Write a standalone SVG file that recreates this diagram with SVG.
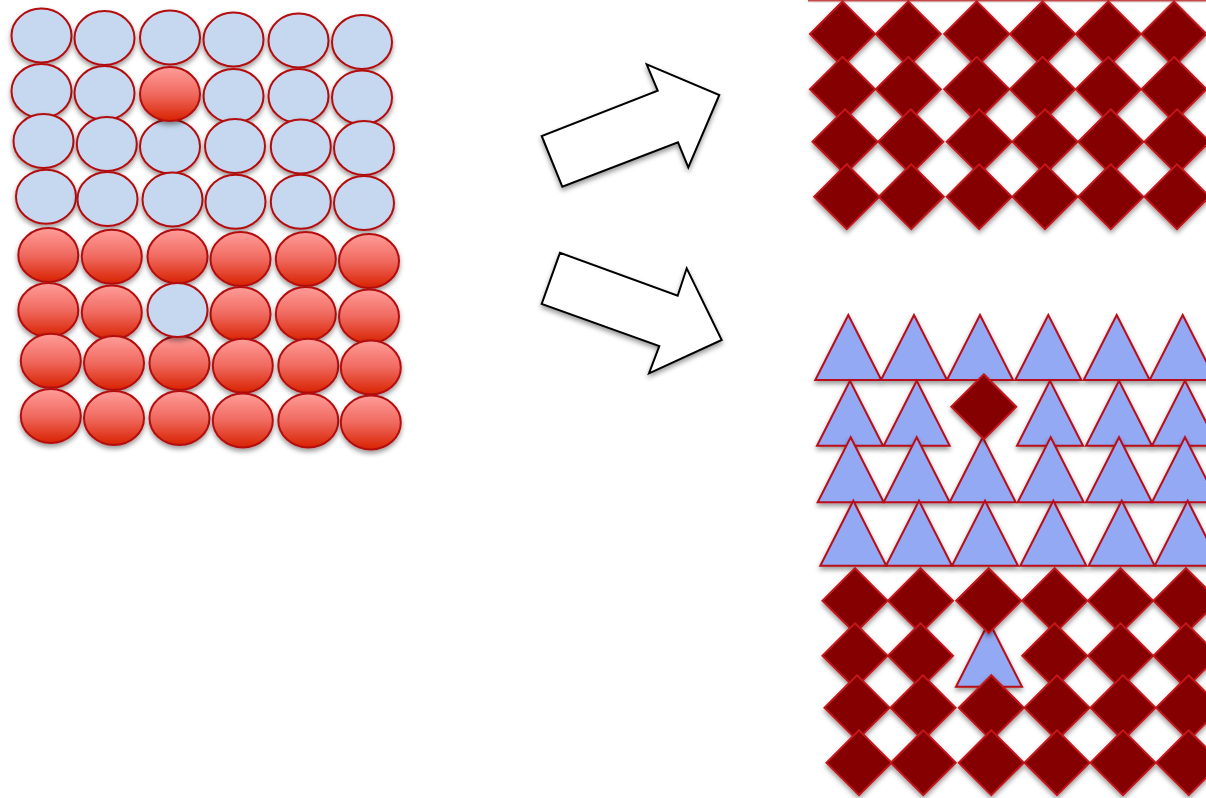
<svg xmlns="http://www.w3.org/2000/svg" xmlns:xlink="http://www.w3.org/1999/xlink" width="1206" height="798" viewBox="0 0 1206 798">
<style>
.blue{fill:#c6d8ef;stroke:#b30d10;stroke-width:2}
.red{fill:url(#rg);stroke:#b30d10;stroke-width:2}
.dia{fill:#850000;stroke:#c2141a;stroke-width:2}
.tri{fill:#93a9f3;stroke:#b8101a;stroke-width:2;stroke-linejoin:miter}
.arrow{fill:#ffffff;stroke:#000000;stroke-width:2}
.blue,.red,.dia,.tri,.arrow,.edge{filter:url(#ds)}
</style>
<defs>
<linearGradient id="rg" x1="0" y1="0" x2="0" y2="1">
<stop offset="0" stop-color="#ff9c98"/>
<stop offset="0.5" stop-color="#f06a60"/>
<stop offset="1" stop-color="#d82200"/>
</linearGradient>
<filter id="ds" x="-30%" y="-30%" width="160%" height="170%">
<feDropShadow dx="0" dy="3" stdDeviation="2.5" flood-color="#000" flood-opacity="0.4"/>
</filter>
<ellipse id="c" cx="0" cy="0" rx="30" ry="27"/>
<path id="d" d="M0,-32.5 L32.5,0 L0,32.5 L-32.5,0 Z"/>
<path id="t" d="M0,0 L33,65 L-33,65 Z"/>
</defs>

<g id="circles">
<g id="row1">
<use href="#c" class="blue" x="41.5" y="35.5"/><use href="#c" class="blue" x="104.5" y="38"/><use href="#c" class="blue" x="170" y="37.5"/><use href="#c" class="blue" x="233.5" y="39.5"/><use href="#c" class="blue" x="298.5" y="40.5"/><use href="#c" class="blue" x="362" y="42"/>
</g>
<g id="row2">
<use href="#c" class="blue" x="41.5" y="91"/><use href="#c" class="blue" x="104.5" y="93"/><use href="#c" class="blue" x="233.5" y="96"/><use href="#c" class="blue" x="298.5" y="96"/><use href="#c" class="blue" x="362" y="97.5"/>
</g>
<g id="row3">
<use href="#c" class="blue" x="43.5" y="141"/><use href="#c" class="blue" x="106.8" y="144"/><use href="#c" class="blue" x="170" y="146.5"/><use href="#c" class="blue" x="235" y="146"/><use href="#c" class="blue" x="300.8" y="146.5"/><use href="#c" class="blue" x="364" y="148"/>
</g>
<g id="row4">
<use href="#c" class="blue" x="46" y="196.7"/><use href="#c" class="blue" x="107.5" y="199"/><use href="#c" class="blue" x="172.5" y="199.5"/><use href="#c" class="blue" x="235.5" y="201.7"/><use href="#c" class="blue" x="300.8" y="201.7"/><use href="#c" class="blue" x="364" y="203"/>
</g>
<g id="row5">
<use href="#c" class="red" x="48.3" y="255"/><use href="#c" class="red" x="111.8" y="256.7"/><use href="#c" class="red" x="177.5" y="256.5"/><use href="#c" class="red" x="240.5" y="259"/><use href="#c" class="red" x="305.8" y="259"/><use href="#c" class="red" x="369" y="261"/>
</g>
<g id="row6">
<use href="#c" class="red" x="48.3" y="310"/><use href="#c" class="red" x="111.8" y="312.5"/><use href="#c" class="red" x="240.5" y="314"/><use href="#c" class="red" x="305.8" y="314"/><use href="#c" class="red" x="369" y="316.5"/>
</g>
<g id="row7">
<use href="#c" class="red" x="50.8" y="360.8"/><use href="#c" class="red" x="114" y="363"/><use href="#c" class="red" x="179.5" y="363"/><use href="#c" class="red" x="242.8" y="365.7"/><use href="#c" class="red" x="308.3" y="365.7"/><use href="#c" class="red" x="370.8" y="367.5"/>
</g>
<g id="row8">
<use href="#c" class="red" x="50.8" y="416"/><use href="#c" class="red" x="114" y="418"/><use href="#c" class="red" x="179.5" y="418"/><use href="#c" class="red" x="242.8" y="420.5"/><use href="#c" class="red" x="308.3" y="420.5"/><use href="#c" class="red" x="370.8" y="422.5"/>
</g>
<g id="odd-red"><use href="#c" class="red" x="170" y="94"/></g>
<g id="odd-blue"><use href="#c" class="blue" x="177.5" y="310"/></g>
</g>

<g id="arrows">
<polygon id="arrow-up" class="arrow" points="541.7,136 562.3,186.7 678,142.3 688.3,167.3 719.3,95 646.7,64.3 657.7,90.7"/>
<polygon id="arrow-down" class="arrow" points="560,252.7 541.7,304 659.3,346 649,373.3 721.7,340 686.7,268.3 677.7,295.7"/>
</g>

<g id="top-diamonds">
<rect id="top-edge" class="edge" x="808" y="0" width="398" height="1.5" fill="#c44848"/>
<g id="td-row1">
<use href="#d" class="dia" x="842.5" y="34"/><use href="#d" class="dia" x="908.3" y="34"/><use href="#d" class="dia" x="976.7" y="34"/><use href="#d" class="dia" x="1042.5" y="34"/><use href="#d" class="dia" x="1108.3" y="34"/><use href="#d" class="dia" x="1174" y="34"/>
</g>
<g id="td-row2">
<use href="#d" class="dia" x="842.5" y="89.3"/><use href="#d" class="dia" x="908.3" y="89.3"/><use href="#d" class="dia" x="976.7" y="89.3"/><use href="#d" class="dia" x="1042.5" y="89.3"/><use href="#d" class="dia" x="1108.3" y="89.3"/><use href="#d" class="dia" x="1174" y="89.3"/>
</g>
<g id="td-row3">
<use href="#d" class="dia" x="845" y="141.7"/><use href="#d" class="dia" x="910.8" y="141.7"/><use href="#d" class="dia" x="979.2" y="141.7"/><use href="#d" class="dia" x="1045" y="141.7"/><use href="#d" class="dia" x="1110.8" y="141.7"/><use href="#d" class="dia" x="1177" y="141.7"/>
</g>
<g id="td-row4">
<use href="#d" class="dia" x="846.7" y="196.7"/><use href="#d" class="dia" x="911.3" y="196.7"/><use href="#d" class="dia" x="979.2" y="196.7"/><use href="#d" class="dia" x="1045" y="196.7"/><use href="#d" class="dia" x="1110.8" y="196.7"/><use href="#d" class="dia" x="1177" y="196.7"/>
</g>
</g>

<g id="bottom-mixed">
<g id="bt-row1">
<use href="#t" class="tri" x="848.3" y="315"/><use href="#t" class="tri" x="914" y="315"/><use href="#t" class="tri" x="980" y="315"/><use href="#t" class="tri" x="1048.3" y="315"/><use href="#t" class="tri" x="1116.7" y="315"/><use href="#t" class="tri" x="1182.7" y="315"/>
</g>
<g id="bt-row2">
<use href="#t" class="tri" x="850" y="380.7"/><use href="#t" class="tri" x="916.7" y="380.7"/><use href="#t" class="tri" x="1050" y="380.7"/><use href="#t" class="tri" x="1119" y="380.7"/><use href="#t" class="tri" x="1185" y="380.7"/>
</g>
<g id="bt-row3">
<use href="#t" class="tri" x="850.7" y="437.3"/><use href="#t" class="tri" x="916.7" y="437.3"/><use href="#t" class="tri" x="982.7" y="437.3"/><use href="#t" class="tri" x="1050.7" y="437.3"/><use href="#t" class="tri" x="1119" y="437.3"/><use href="#t" class="tri" x="1185" y="437.3"/>
</g>
<g id="odd-diamond"><use href="#d" class="dia" x="983.8" y="406.8"/></g>
<g id="bt-row4">
<use href="#t" class="tri" x="853.3" y="500.7"/><use href="#t" class="tri" x="919" y="500.7"/><use href="#t" class="tri" x="985" y="500.7"/><use href="#t" class="tri" x="1053.3" y="500.7"/><use href="#t" class="tri" x="1121.7" y="500.7"/><use href="#t" class="tri" x="1187.7" y="500.7"/>
</g>
<g id="odd-triangle"><use href="#t" class="tri" x="989" y="621.7"/></g>
<g id="bd-row1">
<use href="#d" class="dia" x="855" y="600.7"/><use href="#d" class="dia" x="920.5" y="600.7"/><use href="#d" class="dia" x="988.7" y="600.7"/><use href="#d" class="dia" x="1054.7" y="600.7"/><use href="#d" class="dia" x="1120.5" y="600.7"/><use href="#d" class="dia" x="1186" y="600.7"/>
</g>
<g id="bd-row2">
<use href="#d" class="dia" x="855" y="655.7"/><use href="#d" class="dia" x="920.5" y="655.7"/><use href="#d" class="dia" x="1054.7" y="655.7"/><use href="#d" class="dia" x="1120.5" y="655.7"/><use href="#d" class="dia" x="1186" y="655.7"/>
</g>
<g id="bd-row3">
<use href="#d" class="dia" x="857" y="707.7"/><use href="#d" class="dia" x="923" y="707.7"/><use href="#d" class="dia" x="991.3" y="707.7"/><use href="#d" class="dia" x="1057" y="707.7"/><use href="#d" class="dia" x="1123" y="707.7"/><use href="#d" class="dia" x="1188.7" y="707.7"/>
</g>
<g id="bd-row4">
<use href="#d" class="dia" x="859" y="762.7"/><use href="#d" class="dia" x="923.3" y="762.7"/><use href="#d" class="dia" x="991.3" y="762.7"/><use href="#d" class="dia" x="1057" y="762.7"/><use href="#d" class="dia" x="1123" y="762.7"/><use href="#d" class="dia" x="1188.7" y="762.7"/>
</g>
</g>
</svg>
